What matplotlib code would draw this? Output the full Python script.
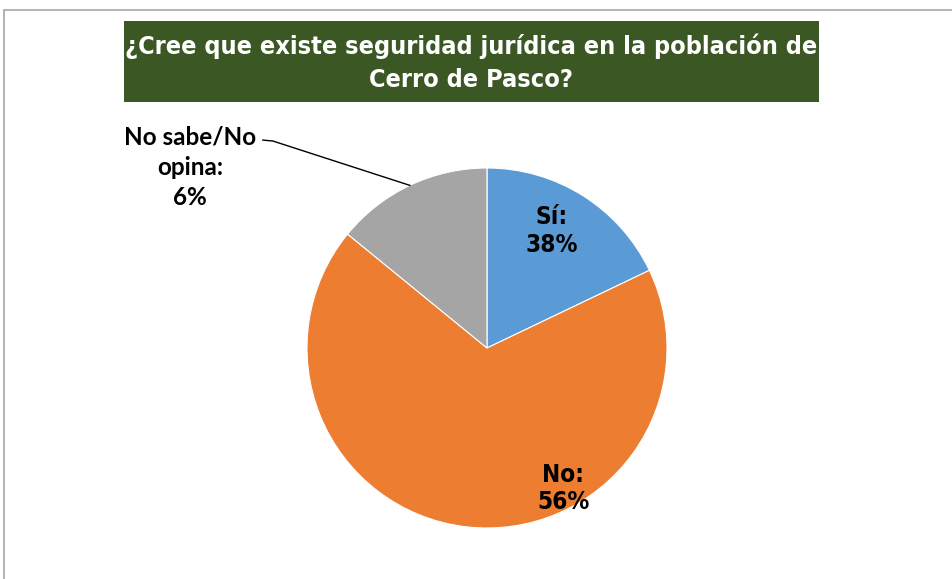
import matplotlib.pyplot as plt
from matplotlib.patches import Rectangle
from matplotlib import font_manager
import numpy as np

# slice sizes as drawn in the picture (the printed labels differ from them)
categorias = ["Sí", "No", "No sabe/No opina"]
valores = [17.9, 68.0, 14.1]
etiquetas = ["Sí:\n38%", "No:\n56%", "No sabe/No\nopina:\n6%"]
colores = ["#5b9bd5", "#ed7d31", "#a5a5a5"]

titulo = "¿Cree que existe seguridad jurídica en la población de\nCerro de Pasco?"

# fuente estrecha si existe, si no Liberation Sans un poco más chica
fuentes = font_manager.fontManager.ttflist
nombres = {f.name for f in fuentes}
if "Liberation Sans Narrow" in nombres:
    narrow = dict(family=["Liberation Sans Narrow", "DejaVu Sans"])
    t_size, l_size = 19, 19
elif any(f.name == "DejaVu Sans" and "condensed" in str(f.stretch) for f in fuentes):
    narrow = dict(family=["DejaVu Sans"], fontstretch="condensed")
    t_size, l_size = 18.1, 17.5
else:
    narrow = dict(family=["Liberation Sans", "DejaVu Sans"])
    t_size, l_size = 18, 17

W, H = 952, 579
fig = plt.figure(figsize=(W / 100, H / 100), dpi=100)

# marco gris del área del gráfico
fig.patches.append(Rectangle((4 / W, -0.1), 1.2, (H - 10) / H + 0.1,
                             transform=fig.transFigure, fill=False,
                             edgecolor="#a6a6a6", linewidth=1.2))

# caja del título
fig.patches.append(Rectangle((124 / W, 1 - 102 / H), (819 - 124) / W, 81 / H,
                             transform=fig.transFigure, facecolor="#3a5724",
                             edgecolor="none"))
fig.text(471 / W, 1 - 62.5 / H, titulo, ha="center", va="center", color="white",
         fontsize=t_size, fontweight="bold", linespacing=1.45, **narrow)

cx, cy, r = 487, 348, 180
ax = fig.add_axes([(cx - r) / W, (H - cy - r) / H, 2 * r / W, 2 * r / H])
wedges, _ = ax.pie(valores, colors=colores, startangle=90, counterclock=False,
                   radius=1, wedgeprops=dict(edgecolor="white", linewidth=0.8))
ax.set_xlim(-1, 1)
ax.set_ylim(-1, 1)
ax.set_aspect("equal")
ax.axis("off")

ax.text(0.36, 0.65, etiquetas[0], ha="center", va="center", fontsize=l_size,
        fontweight="bold", linespacing=1.2, **narrow)
ax.text(0.425, -0.78, etiquetas[1], ha="center", va="center", fontsize=l_size,
        fontweight="bold", linespacing=1.2, **narrow)

# etiqueta con línea guía para "No sabe/No opina"
w = wedges[2]
ang = np.deg2rad((w.theta1 + w.theta2) / 2)
ax.text(-1.65, 1.005, etiquetas[2], ha="center", va="center", fontsize=17.5,
        fontweight="bold", family=["Lato", "DejaVu Sans"], linespacing=1.38,
        clip_on=False)
ax.plot([-1.245, -1.19, np.cos(ang)], [1.155, 1.15, np.sin(ang)],
        color="black", linewidth=1, clip_on=False)

fig.savefig("out.png", dpi=100)
